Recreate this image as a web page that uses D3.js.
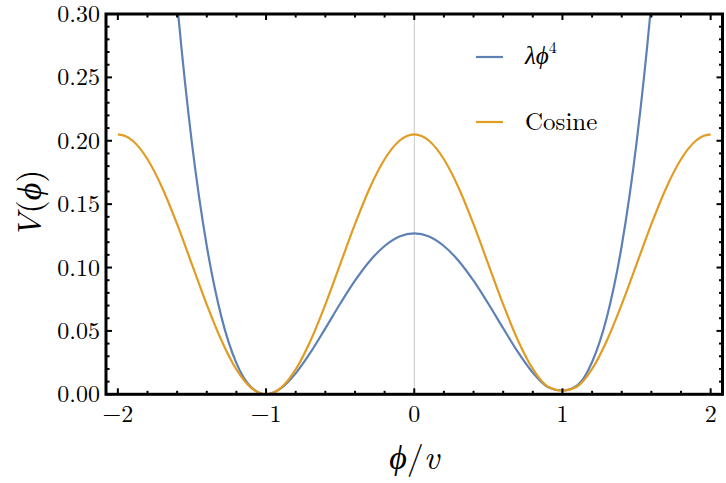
<!DOCTYPE html>
<html>
<head>
<meta charset="utf-8">
<script src="https://cdnjs.cloudflare.com/ajax/libs/d3/7.8.5/d3.min.js"></script>
<style>
  body { margin: 0; background: #fff; }
  svg { display: block; }
  text { font-family: "Latin Modern Roman", "CMU Serif", "Liberation Serif", serif; fill: #000; }
</style>
</head>
<body>
<div id="chart"></div>
<script>
// phi/v sample points
var phiVals = [-2.0, -1.95, -1.9, -1.8, -1.7, -1.6, -1.5, -1.4, -1.3, -1.2, -1.1,
               -1.0, -0.9, -0.8, -0.7, -0.6, -0.5, -0.4, -0.3, -0.2, -0.1,
               0.0, 0.1, 0.2, 0.3, 0.4, 0.5, 0.6, 0.7, 0.8, 0.9,
               1.0, 1.1, 1.2, 1.3, 1.4, 1.5, 1.6, 1.7, 1.8, 1.9, 1.95, 2.0];

// lambda phi^4 potential (null = far above the frame)
var quarticVals = [null, null, null, null, 0.454, 0.309, 0.198, 0.117, 0.0605, 0.0246, 0.0056,
                   0.0000, 0.0046, 0.0165, 0.0330, 0.0520, 0.0714, 0.0896, 0.1052, 0.1170, 0.1245,
                   0.1270, 0.1245, 0.1170, 0.1052, 0.0896, 0.0714, 0.0521, 0.0332, 0.0170, 0.0058,
                   0.0030, 0.0070, 0.0255, 0.0610, 0.1172, 0.1985, 0.309, 0.454, null, null, null, null];

// cosine potential
var cosineVals = [0.2050, 0.2037, 0.2000, 0.1854, 0.1628, 0.1342, 0.1025, 0.0708, 0.0423, 0.0196, 0.0050,
                  0.0000, 0.0050, 0.0196, 0.0423, 0.0708, 0.1025, 0.1342, 0.1628, 0.1854, 0.2000,
                  0.2050, 0.2000, 0.1854, 0.1628, 0.1342, 0.1025, 0.0709, 0.0425, 0.0200, 0.0062,
                  0.0030, 0.0062, 0.0200, 0.0425, 0.0709, 0.1025, 0.1342, 0.1628, 0.1854, 0.2000, 0.2037, 0.2050];

var xTicks = [-2, -1, 0, 1, 2];
var xMinor = [-1.8, -1.6, -1.4, -1.2, -0.8, -0.6, -0.4, -0.2, 0.2, 0.4, 0.6, 0.8, 1.2, 1.4, 1.6, 1.8];
var yTicks = [0, 0.05, 0.10, 0.15, 0.20, 0.25, 0.30];
var yMinor = d3.range(1, 30).filter(function(i) { return i % 5 != 0; }).map(function(i) { return i / 100; });

var seriesNames = ["\u03BB\u03D5", "Cosine"];
var seriesColors = ["#5e81b5", "#e19c24"];

var width = 726, height = 483;
// note: "top" is taken by window.top, so use other names
var plotL = 106, plotR = 722.5, plotT = 14, plotB = 394.3;

var x = d3.scaleLinear().domain([-2.08, 2.08]).range([plotL, plotR]);
var y = d3.scaleLinear().domain([0, 0.30]).range([plotB, plotT]);

var svg = d3.select("#chart").append("svg")
    .attr("width", width)
    .attr("height", height);

svg.append("defs").append("clipPath").attr("id", "plotclip")
  .append("rect")
    .attr("x", plotL).attr("y", plotT)
    .attr("width", plotR - plotL).attr("height", plotB - plotT);

// vertical axis line at phi = 0
svg.append("line")
    .attr("x1", x(0)).attr("x2", x(0))
    .attr("y1", plotT).attr("y2", plotB)
    .attr("stroke", "#c8c8c8")
    .attr("stroke-width", 1);

var line = d3.line()
    .x(function(d) { return x(d[0]); })
    .y(function(d) { return y(d[1]); })
    .curve(d3.curveMonotoneX);

var series = [quarticVals, cosineVals];
var plot = svg.append("g").attr("clip-path", "url(#plotclip)");
series.forEach(function(vals, i) {
  var pts = phiVals.map(function(p, j) { return [p, vals[j]]; })
      .filter(function(d) { return d[1] != null; });
  plot.append("path")
      .datum(pts)
      .attr("fill", "none")
      .attr("stroke", seriesColors[i])
      .attr("stroke-width", 2.2)
      .attr("d", line);
});

// frame ticks (inward, on all four sides)
var ticks = svg.append("g").attr("stroke", "#000").attr("stroke-width", 2);
function tickX(v, len) {
  ticks.append("line").attr("x1", x(v)).attr("x2", x(v)).attr("y1", plotB).attr("y2", plotB - len);
  ticks.append("line").attr("x1", x(v)).attr("x2", x(v)).attr("y1", plotT).attr("y2", plotT + len);
}
function tickY(v, len) {
  ticks.append("line").attr("y1", y(v)).attr("y2", y(v)).attr("x1", plotL).attr("x2", plotL + len);
  ticks.append("line").attr("y1", y(v)).attr("y2", y(v)).attr("x1", plotR).attr("x2", plotR - len);
}
xTicks.forEach(function(v) { tickX(v, 6); });
xMinor.forEach(function(v) { tickX(v, 3.5); });
yTicks.forEach(function(v) { tickY(v, 6); });
yMinor.forEach(function(v) { tickY(v, 3.5); });

// frame
svg.append("rect")
    .attr("x", plotL).attr("y", plotT)
    .attr("width", plotR - plotL).attr("height", plotB - plotT)
    .attr("fill", "none")
    .attr("stroke", "#000")
    .attr("stroke-width", 3);

// tick labels
svg.append("g").selectAll("text")
  .data(xTicks).enter().append("text")
    .attr("x", function(d) { return x(d); })
    .attr("y", plotB + 28)
    .attr("text-anchor", "middle")
    .attr("font-size", 24)
    .text(function(d) { return d < 0 ? "\u2212" + Math.abs(d) : d; });

svg.append("g").selectAll("text")
  .data(yTicks).enter().append("text")
    .attr("x", plotL - 6)
    .attr("y", function(d) { return y(d) + 8; })
    .attr("text-anchor", "end")
    .attr("font-size", 24)
    .text(function(d) { return d3.format(".2f")(d); });

// axis titles
var xt = svg.append("text")
    .attr("x", x(0))
    .attr("y", 469)
    .attr("text-anchor", "middle")
    .attr("font-size", 34)
    .attr("font-style", "italic");
xt.append("tspan").text("\u03D5");
xt.append("tspan").attr("font-style", "normal").text("/");
xt.append("tspan").text("v");

var yt = svg.append("text")
    .attr("transform", "translate(41," + ((plotT + plotB) / 2) + ") rotate(-90)")
    .attr("text-anchor", "middle")
    .attr("font-size", 34);
yt.append("tspan").attr("font-style", "italic").text("V");
yt.append("tspan").text("(");
yt.append("tspan").attr("font-style", "italic").text("\u03D5");
yt.append("tspan").text(")");

// legend
var legendY = [57, 122];
series.forEach(function(vals, i) {
  svg.append("line")
      .attr("x1", 476).attr("x2", 503)
      .attr("y1", legendY[i]).attr("y2", legendY[i])
      .attr("stroke", seriesColors[i])
      .attr("stroke-width", 2.2);
});
var l1 = svg.append("text")
    .attr("x", 525).attr("y", legendY[0] + 7)
    .attr("font-size", 25)
    .attr("font-style", "italic");
l1.append("tspan").text(seriesNames[0]);
l1.append("tspan").attr("font-size", 16).attr("font-style", "normal").attr("dy", -11).text("4");
svg.append("text")
    .attr("x", 525).attr("y", legendY[1] + 8)
    .attr("font-size", 25)
    .text(seriesNames[1]);
</script>
</body>
</html>
